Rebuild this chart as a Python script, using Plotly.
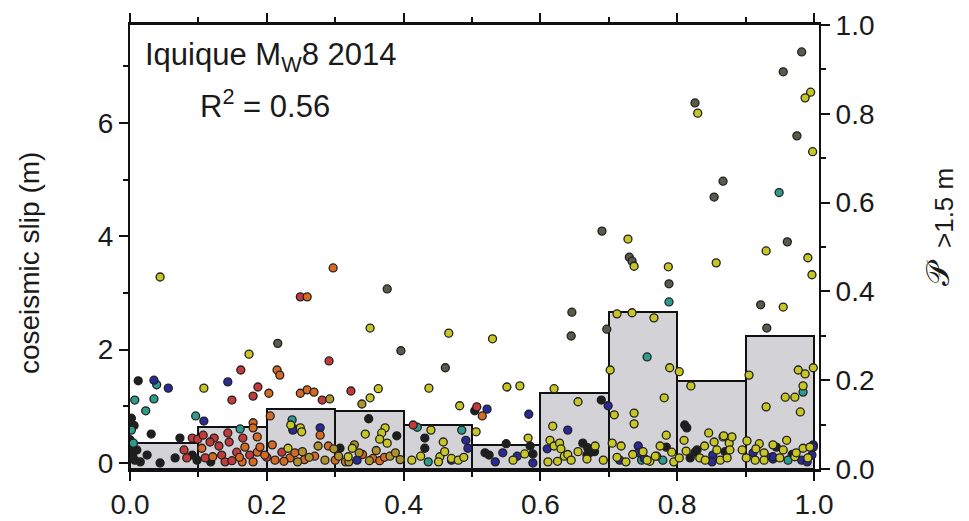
import plotly.graph_objects as go

# ---------------- data ----------------
bin_centers = [0.05, 0.15, 0.25, 0.35, 0.45, 0.55, 0.65, 0.75, 0.85, 0.95]
prob_gt_1p5 = [0.059, 0.095, 0.136, 0.131, 0.100, 0.054, 0.172, 0.353, 0.199, 0.299]

x_ticks = [0.0, 0.2, 0.4, 0.6, 0.8, 1.0]
x_ticklabels = ["0.0", "0.2", "0.4", "0.6", "0.8", "1.0"]
slip_ticks = [0, 2, 4, 6]
prob_ticks = [0.0, 0.2, 0.4, 0.6, 0.8, 1.0]
prob_ticklabels = ["0.0", "0.2", "0.4", "0.6", "0.8", "1.0"]

black_pts = [(0.012, 1.45), (0.031, 0.51), (0.073, 0.44), (0.003, 0.28), (0.004, 0.14), (0.007, 0.05),
             (0.000, 0.41), (0.010, 0.23), (0.002, 0.79), (0.025, 0.14), (0.044, 0.00), (0.066, 0.09),
             (0.091, 0.14), (0.098, 0.05), (0.349, 0.78), (0.390, 0.48), (0.431, 0.44), (0.431, 0.26),
             (0.307, 0.26), (0.504, 0.92), (0.519, 0.18), (0.525, 0.14), (0.550, 0.34), (0.585, 0.30),
             (0.589, 0.16), (0.662, 0.35), (0.668, 0.14), (0.672, 0.18), (0.689, 1.11), (0.811, 0.67),
             (0.814, 0.62), (0.784, 0.28), (0.826, 0.19), (0.829, 0.23), (0.819, 0.09), (0.669, 0.27),
             (0.679, 0.20), (0.945, 0.28), (0.968, 0.15), (0.870, 0.20), (0.006, 0.66), (0.015, 0.02),
             (0.118, 0.02)]
gray_pts = [(0.376, 3.07), (0.396, 1.98), (0.461, 1.68), (0.646, 2.66), (0.645, 2.24), (0.697, 2.36),
            (0.690, 4.09), (0.730, 3.63), (0.788, 3.16), (0.826, 6.35), (0.982, 7.25), (0.955, 6.90),
            (0.975, 5.77), (0.867, 4.97), (0.854, 4.69), (0.961, 3.90), (0.922, 2.79), (0.931, 2.38),
            (0.216, 2.11), (0.734, 3.56)]
teal_pts = [(0.039, 1.38), (0.007, 1.11), (0.035, 1.13), (0.023, 0.92), (0.002, 0.58), (0.096, 0.83),
            (0.161, 0.60), (0.237, 0.76), (0.485, 0.58), (0.756, 1.87), (0.949, 4.77), (0.788, 2.84),
            (0.984, 1.25), (0.436, 0.02), (0.779, 0.05), (0.420, 0.63), (0.005, 0.35), (0.962, 0.05),
            (0.748, 0.05)]
blue_pts = [(0.035, 1.46), (0.056, 1.32), (0.143, 1.43), (0.108, 0.74), (0.240, 0.60), (0.278, 0.62),
            (0.238, 0.58), (0.491, 0.40), (0.494, 0.26), (0.583, 0.86), (0.640, 0.58), (0.699, 1.01),
            (0.332, 0.05), (0.534, 0.02), (0.545, 0.18), (0.566, 0.12), (0.589, 0.00), (0.743, 0.30),
            (0.743, 0.18), (0.716, 0.05), (0.522, 0.95), (0.852, 0.14), (0.851, 0.02), (0.911, 0.18),
            (0.940, 0.07), (0.940, 0.11), (0.982, 0.05), (0.997, 0.14), (0.999, 0.32), (0.999, 0.28),
            (0.930, 0.12), (0.990, 0.02), (0.470, 0.05), (0.610, 0.25), (0.752, 0.08)]
red_pts = [(0.162, 1.64), (0.180, 1.18), (0.187, 1.34), (0.149, 1.11), (0.291, 1.80), (0.281, 1.11),
           (0.249, 2.93), (0.091, 0.44), (0.099, 0.42), (0.107, 0.49), (0.123, 0.44), (0.143, 0.53),
           (0.145, 0.37), (0.165, 0.44), (0.507, 0.99), (0.414, 0.67), (0.222, 0.19), (0.079, 0.23),
           (0.083, 0.09), (0.110, 0.09), (0.134, 0.14), (0.139, 0.02), (0.149, 0.04), (0.156, 0.19),
           (0.175, 0.14), (0.117, 0.37), (0.323, 1.27), (0.130, 0.30), (0.200, 0.10)]
orange_pts = [(0.297, 3.44), (0.259, 2.93), (0.215, 1.64), (0.219, 1.55), (0.203, 1.23), (0.249, 1.23),
              (0.259, 1.29), (0.269, 1.25), (0.180, 0.71), (0.180, 0.62), (0.186, 0.46), (0.205, 0.83),
              (0.278, 0.49), (0.105, 0.26), (0.121, 0.11), (0.164, 0.02), (0.168, 0.28), (0.180, 0.02),
              (0.186, 0.19), (0.190, 0.28), (0.197, 0.14), (0.208, 0.32), (0.212, 0.05), (0.234, 0.09),
              (0.241, 0.18), (0.515, 0.83), (0.160, 0.10), (0.225, 0.03), (0.255, 0.06), (0.270, 0.12),
              (0.290, 0.30), (0.300, 0.05), (0.315, 0.02), (0.355, 0.08), (0.365, 0.04), (0.372, 0.10),
              (0.340, 0.15)]
olive_pts = [(0.339, 1.04), (0.292, 1.13), (0.245, 0.02), (0.262, 0.10), (0.285, 0.05), (0.305, 0.12),
             (0.320, 0.02), (0.335, 0.18), (0.350, 0.04), (0.360, 0.22), (0.380, 0.12), (0.395, 0.06),
             (0.252, 0.20), (0.275, 0.30), (0.298, 0.25), (0.328, 0.32), (0.388, 0.18)]
yellow_pts = [(0.044, 3.28), (0.351, 2.38), (0.174, 1.92), (0.108, 1.32), (0.466, 2.29), (0.530, 2.19),
              (0.437, 1.32), (0.482, 1.01), (0.551, 1.34), (0.570, 1.36), (0.620, 1.31), (0.655, 1.08),
              (0.708, 0.85), (0.618, 0.65), (0.680, 0.30), (0.712, 2.63), (0.734, 2.65), (0.766, 2.56),
              (0.702, 1.64), (0.789, 1.68), (0.803, 1.61), (0.781, 1.15), (0.737, 0.88), (0.737, 0.69),
              (0.784, 0.49), (0.820, 1.36), (0.846, 0.53), (0.867, 0.46), (0.905, 1.55), (0.930, 0.99),
              (0.955, 2.75), (0.977, 1.64), (0.987, 1.57), (0.999, 1.68), (0.984, 1.36), (0.972, 1.16),
              (0.958, 1.16), (0.980, 0.90), (0.995, 6.54), (0.987, 6.44), (0.830, 6.17), (0.998, 5.49),
              (0.728, 3.95), (0.737, 3.47), (0.787, 3.46), (0.857, 3.53), (0.930, 3.74), (0.991, 3.62),
              (0.997, 3.32), (0.363, 1.31), (0.351, 1.15), (0.344, 0.51), (0.373, 0.62), (0.368, 0.53),
              (0.365, 0.42), (0.376, 0.35), (0.440, 0.58), (0.458, 0.37), (0.506, 0.55), (0.582, 0.44),
              (0.249, 0.62), (0.235, 0.67), (0.251, 0.55), (0.231, 0.26), (0.319, 0.11), (0.325, 0.26),
              (0.453, 0.11), (0.451, 0.02), (0.470, 0.08), (0.480, 0.05), (0.488, 0.10), (0.412, 0.05),
              (0.425, 0.12), (0.460, 0.20), (0.577, 0.16), (0.560, 0.05),
              (0.614, 0.40), (0.620, 0.30), (0.628, 0.35), (0.630, 0.25), (0.635, 0.12), (0.640, 0.15),
              (0.645, 0.05), (0.625, 0.03), (0.611, 0.02), (0.692, 0.05), (0.668, 0.07), (0.655, 0.20),
              (0.712, 0.10), (0.718, 0.30), (0.725, 0.02), (0.735, 0.15), (0.750, 0.20), (0.760, 0.03),
              (0.770, 0.12), (0.775, 0.30), (0.795, 0.02), (0.705, 0.35), (0.756, 0.05), (0.768, 0.12),
              (0.792, 0.19),
              (0.803, 0.09), (0.813, 0.21), (0.833, 0.09), (0.841, 0.05), (0.863, 0.05), (0.873, 0.09),
              (0.854, 0.37), (0.858, 0.23), (0.876, 0.35), (0.877, 0.23), (0.868, 0.48), (0.880, 0.46),
              (0.895, 0.23), (0.840, 0.30), (0.810, 0.40),
              (0.902, 0.39), (0.901, 0.09), (0.914, 0.05), (0.920, 0.34), (0.927, 0.18), (0.927, 0.05),
              (0.940, 0.32), (0.950, 0.09), (0.955, 0.23), (0.972, 0.11), (0.974, 0.18), (0.984, 0.26),
              (0.991, 0.09), (0.994, 0.28), (0.960, 0.40), (0.915, 0.25)]

point_groups = [
    (black_pts, "#1e1e1e"),
    (gray_pts, "#5a5a4c"),
    (teal_pts, "#2e9c8c"),
    (blue_pts, "#2a2a96"),
    (red_pts, "#c23a3a"),
    (orange_pts, "#d46a24"),
    (olive_pts, "#b0922a"),
    (yellow_pts, "#c8c624"),
]

FONT = "Liberation Sans, Arial, sans-serif"
TXT = "#1a1a1a"

fig = go.Figure()

# histogram of probability (drawn on base axis -> below points)
fig.add_trace(go.Bar(
    x=bin_centers, y=prob_gt_1p5, width=0.1,
    marker=dict(color="#d3d3d7", line=dict(color="#111111", width=2)),
    xaxis="x", yaxis="y", showlegend=False, hoverinfo="skip"))

for pts, col in point_groups:
    fig.add_trace(go.Scatter(
        x=[p[0] for p in pts], y=[p[1] for p in pts], mode="markers",
        marker=dict(size=8, color=col, line=dict(color="#202020", width=1.3)),
        xaxis="x", yaxis="y2", showlegend=False))

axis_common = dict(
    showgrid=False, zeroline=False, showline=True, linecolor="#111111", automargin=False,
    ticks="outside", tickcolor="#111111", tickwidth=1.5,
    tickfont=dict(family=FONT, size=28, color=TXT),
)

# page body has an 8px margin: figure is sized/offset to compensate
fig.update_layout(
    template="none",
    width=953, height=513,
    margin=dict(l=122, r=142, t=17, b=52, pad=0),
    paper_bgcolor="white", plot_bgcolor="white",
    font=dict(family=FONT, color=TXT),
    bargap=0,
    xaxis=dict(range=[0, 1.0073], tickvals=x_ticks, ticktext=x_ticklabels,
               ticklen=9, linewidth=2.5, mirror="ticks",
               minor=dict(dtick=0.1, tick0=0, ticklen=5, ticks="outside", tickcolor="#111111", tickwidth=1.5),
               **axis_common),
    yaxis=dict(side="right", range=[0, 1.0], tickvals=prob_ticks, ticktext=prob_ticklabels,
               ticklen=9, linewidth=2,
               minor=dict(dtick=0.1, tick0=0, ticklen=5, ticks="outside", tickcolor="#111111", tickwidth=1.5),
               **axis_common),
    yaxis2=dict(side="left", overlaying="y", anchor="x", range=[-0.106, 7.725], tickvals=slip_ticks,
                ticklen=9, linewidth=2,
                minor=dict(dtick=1, tick0=0, ticklen=5, ticks="outside", tickcolor="#111111", tickwidth=1.5),
                **axis_common),
    annotations=[
        dict(text="Iquique M<sub>W</sub>8 2014", xref="paper", yref="paper", x=0.0189, y=0.928,
             xanchor="left", yanchor="middle", showarrow=False,
             font=dict(family=FONT, size=31, color=TXT)),
        dict(text="R<sup>2</sup> = 0.56", xref="paper", yref="paper", x=0.0987, y=0.822,
             xanchor="left", yanchor="middle", showarrow=False,
             font=dict(family=FONT, size=31, color=TXT)),
        dict(text="coseismic slip (m)", xref="paper", yref="paper", x=-0.145, y=0.464,
             xanchor="center", yanchor="middle", textangle=-90, showarrow=False,
             font=dict(family=FONT, size=28, color=TXT)),
        dict(text="\U0001D4AB", xref="paper", yref="paper", x=(938 - 130) / 689, y=(469 - 272) / 444,
             xanchor="center", yanchor="middle", textangle=-90, showarrow=False,
             font=dict(family=FONT, size=32, color=TXT)),
        dict(text="&gt;1.5 m", xref="paper", yref="paper", x=(944 - 130) / 689, y=(469 - 208) / 444,
             xanchor="center", yanchor="middle", textangle=-90, showarrow=False,
             font=dict(family=FONT, size=26, color=TXT)),
    ],
)

fig.write_html("out.html")
